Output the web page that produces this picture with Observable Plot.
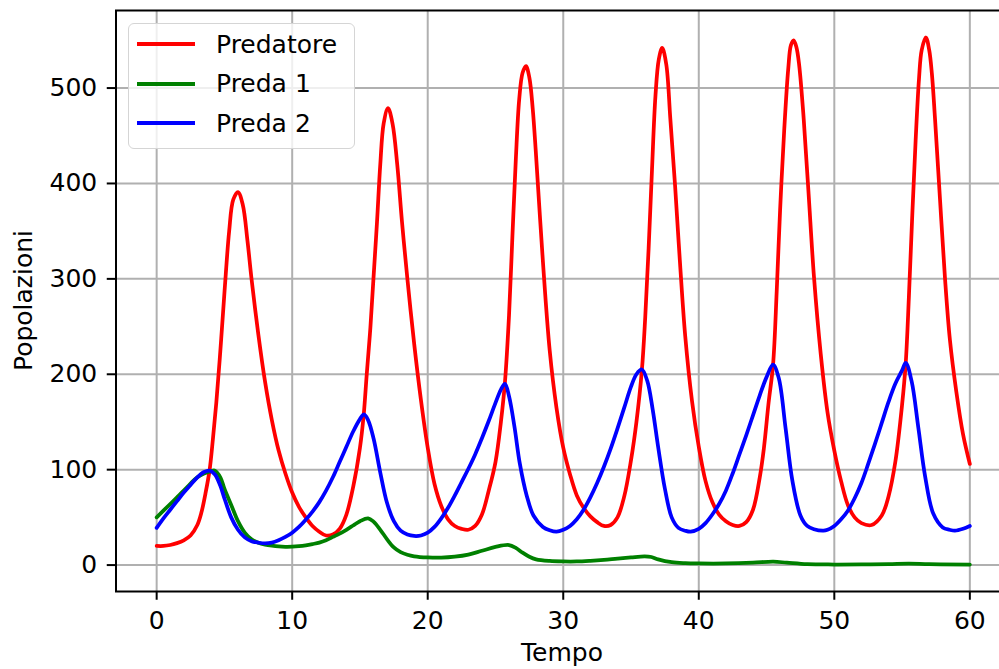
<!DOCTYPE html>
<html>
<head>
<meta charset="utf-8">
<script src="https://cdn.jsdelivr.net/npm/d3@7"></script>
<script src="https://cdn.jsdelivr.net/npm/@observablehq/plot@0.6"></script>
<style>
  html, body { margin: 0; padding: 0; background: white; overflow: hidden; }
  #wrap { position: relative; width: 999px; height: 669px; overflow: hidden; font-family: "DejaVu Sans", sans-serif; color: black; }
  .lbl { position: absolute; font-size: 25px; line-height: 25px; white-space: nowrap; text-align: center; }
  #legend { position: absolute; left: 128px; top: 23px; width: 225px; height: 124px; border: 1.5px solid #d5d5d5; border-radius: 6px; background: rgba(255,255,255,0.8); }
  .row { position: absolute; left: 137px; height: 25px; display: flex; align-items: center; }
  .row .sw { display: inline-block; width: 58px; height: 3.75px; margin-right: 21px; }
  .row .tx { font-size: 25px; line-height: 25px; }
</style>
</head>
<body>
<div id="wrap"></div>
<script>
// ---- Data ----
const seriesNames = ["Predatore", "Preda 1", "Preda 2"];
const seriesColors = ["#ff0000", "#008000", "#0000ff"];
const xTicks = [0, 10, 20, 30, 40, 50, 60];
const yTicks = [0, 100, 200, 300, 400, 500];

const predT = [0,0.5,1,1.5,2,2.5,3,3.3,3.6,3.9,4.15,4.4,4.65,4.9,5.1,5.35,5.65,6.0,6.35,6.7,7.0,7.5,8,8.5,9,9.5,10,10.5,11,11.5,12,12.5,13,13.5,14,14.5,15,15.28,15.5,15.77,16,16.26,16.5,16.75,17.07,17.4,17.75,18.1,18.5,19,19.5,20,20.5,21,21.5,22,22.5,23,23.5,24,24.5,25,25.4,25.7,26,26.25,26.5,26.75,27,27.25,27.5,27.75,28,28.5,29,29.5,30,30.5,31,31.5,32,32.5,33,33.5,34,34.5,35,35.4,35.8,36.05,36.3,36.55,36.8,37.05,37.3,37.6,37.9,38.25,38.6,39,39.5,40,40.5,41,41.5,42,42.5,43,43.5,44,44.5,44.8,45.15,45.48,45.75,46,46.3,46.6,46.8,47,47.2,47.4,47.74,48.1,48.5,49,49.5,50,50.5,51,51.5,52,52.75,53.5,54,54.5,55,55.27,55.5,55.75,56,56.25,56.45,56.76,57.0,57.2,57.43,57.8,58.16,58.53,59,59.5,60];
const predV = [20,20,21,23,26,31,42,55,75,99,132,170,215,265,305,350,383,391,378,340,300,242,192,152,120,96,76,61,50,41,35,31,32,38,53,82,123,158,200,249,301,360,420,463,479,463,420,360,300,232,173,123,85,62,48,41,38,37,41,53,78,108,150,192,262,345,425,488,516,523,511,478,428,318,225,165,123,95,73,60,51,45,41,42,50,72,110,150,204,260,332,415,491,530,542,525,468,398,320,240,172,124,88,66,53,46,42,41,45,58,92,122,170,210,287,372,455,520,545,550,543,525,468,390,302,221,160,120,88,63,50,44,42,52,72,108,168,212,280,366,445,510,540,553,540,515,468,383,302,236,182,137,106];

const prey1T = [0,0.5,1,1.5,2,2.5,3,3.5,4,4.3,4.7,5,5.5,6,6.5,7,7.5,8,8.5,9,9.5,10,10.5,11,11.5,12,12.5,13,13.5,14,14.5,15,15.6,16,16.5,17,17.5,18,18.5,19,20,21,22,23,24,25,26,26.5,27,27.5,28,29,30,31,32,33,34,35,36,36.5,37,38,39,40,42,44,45.5,46.5,48,50,52,54,55.5,57,60];
const prey1V = [50,57,64,71,78,85.5,92,96,98.5,99,92,80,63,46,34,27,23.5,21.5,20.3,19.5,19.2,19.3,19.8,20.7,22,23.5,26,29.5,33,37,41.5,46,49,45.5,37,27,18.5,13.5,10.8,9.2,8,7.8,8.8,11,15,19,21,18,13,8.7,6,4.3,3.8,3.8,4.5,5.5,6.8,8,9,8.5,6,3,2,1.7,1.7,2.5,3.6,2.5,0.9,0.6,0.7,1,1.6,0.9,0.5];

const prey2T = [0,0.5,1,1.5,2,2.5,3,3.5,3.9,4.3,4.7,5,5.5,6,6.5,7,7.5,8,8.5,9,9.5,10,10.5,11,11.5,12,12.5,13,13.5,14,14.5,15,15.3,15.6,16,16.5,17,17.5,18,18.5,19,19.5,20,20.5,21,21.5,22,22.5,23,23.5,24,24.5,25,25.4,25.7,26,26.4,26.8,27.3,27.8,28.5,29,29.5,30,30.5,31,31.5,32,32.5,33,33.5,34,34.5,35,35.4,35.8,36.2,36.6,37,37.5,38,38.5,39,39.4,40,40.5,41,41.5,42,42.5,43,43.5,44,44.5,45,45.48,45.9,46.4,46.9,47.5,48,48.5,49.2,49.5,50,50.5,51,51.5,52,52.5,53,53.5,54,54.5,55,55.27,55.7,56.2,56.7,57.3,58,58.5,58.9,59.5,60];
const prey2V = [39,49,58,67,76,84,92,97.5,99,95,83,70,50,37,29,25,23.5,22.7,23.5,26,29.5,34,40,47.5,56,66,78,92,108,124,140,153,158,152,133,97,65,46,36,32,30.5,31,34,40,49,60,73,87,101,116,133,151,170,184,190,177,145,106,73,52,40,36.5,35,37,41,48,58,71,86,103,122,143,165,187,200,205,193,163,124,80,50,39,36,35,38,44,53,64,78,96,116,136,157,178,197,210,196,144,89,52,41,37.5,36,37,41,48,57,70,86,106,127,149,171,190,204,212,193,144,93,54,39.5,37,36,38,41];

// ---- Build table for the library ----
const times = [predT, prey1T, prey2T];
const values = [predV, prey1V, prey2V];
const rows = [];
seriesNames.forEach((name, i) => {
  times[i].forEach((t, j) => rows.push({series: name, t, v: values[i][j]}));
});

const lineMarks = seriesNames.map((name, i) =>
  Plot.line(rows.filter(d => d.series === name), {
    x: "t", y: "v", stroke: seriesColors[i], strokeWidth: 3.75, curve: "catmull-rom"
  })
);

const chart = Plot.plot({
  width: 1012,
  height: 680,
  marginLeft: 115.5,
  marginRight: 2,
  marginTop: 10,
  marginBottom: 89,
  x: {domain: [-3, 63]},
  y: {domain: [-27.7, 581.3]},
  style: {fontFamily: "'DejaVu Sans', sans-serif", fontSize: "25px", color: "black", background: "white", maxWidth: "none"},
  marks: [
    Plot.gridX(xTicks, {stroke: "#b0b0b0", strokeOpacity: 1, strokeWidth: 2}),
    Plot.gridY(yTicks, {stroke: "#b0b0b0", strokeOpacity: 1, strokeWidth: 2}),
    ...lineMarks,
    Plot.axisX(xTicks, {tickSize: 8.75, tickPadding: 11, strokeWidth: 2, label: null, fontSize: 25}),
    Plot.axisY(yTicks, {tickSize: 8.75, tickPadding: 10, strokeWidth: 2, label: null, fontSize: 25}),
    Plot.frame({stroke: "black", strokeWidth: 2})
  ]
});
chart.style.position = "absolute";
chart.style.left = "0px";
chart.style.top = "0px";

const wrap = document.getElementById("wrap");
wrap.appendChild(chart);

// axis labels
const xl = document.createElement("div");
xl.className = "lbl";
xl.textContent = "Tempo";
xl.style.left = (562 - 100) + "px";
xl.style.width = "200px";
xl.style.top = "640px";
wrap.appendChild(xl);

const yl = document.createElement("div");
yl.className = "lbl";
yl.textContent = "Popolazioni";
yl.style.width = "300px";
yl.style.height = "25px";
yl.style.left = (23 - 150) + "px";
yl.style.top = (300.5 - 12.5) + "px";
yl.style.transform = "rotate(-90deg)";
yl.style.transformOrigin = "50% 50%";
wrap.appendChild(yl);

// legend
const lg = document.createElement("div");
lg.id = "legend";
wrap.appendChild(lg);
const rowYs = [44.3, 83.8, 123.3];
seriesNames.forEach((name, i) => {
  const r = document.createElement("div");
  r.className = "row";
  r.style.top = (rowYs[i] - 12.5) + "px";
  const sw = document.createElement("span");
  sw.className = "sw";
  sw.style.background = seriesColors[i];
  const tx = document.createElement("span");
  tx.className = "tx";
  tx.textContent = name;
  r.appendChild(sw);
  r.appendChild(tx);
  wrap.appendChild(r);
});
</script>
</body>
</html>
